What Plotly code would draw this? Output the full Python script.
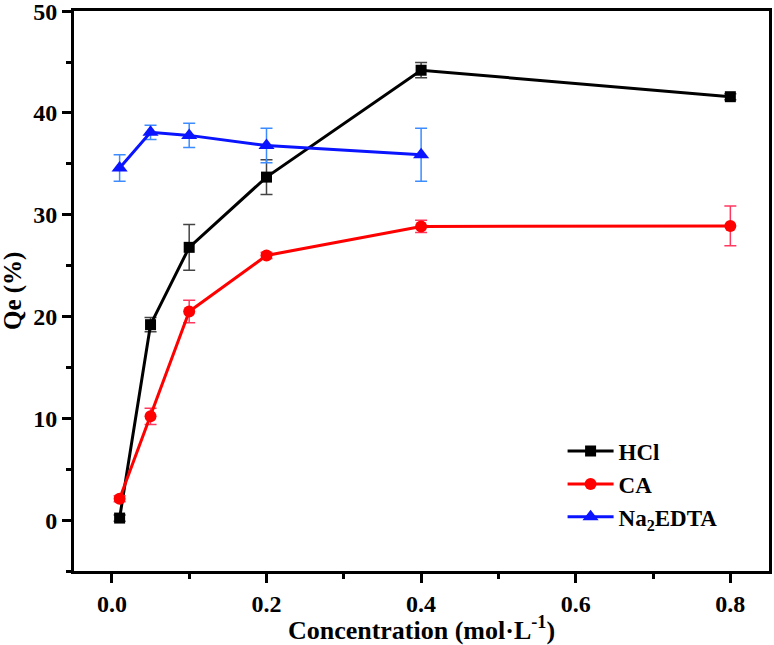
import plotly.graph_objects as go

conc = [0.01, 0.05, 0.1, 0.2, 0.4, 0.8]
conc_edta = [0.01, 0.05, 0.1, 0.2, 0.4]

hcl = [0.2, 19.2, 26.8, 33.7, 44.2, 41.6]
hcl_err = [0.3, 0.7, 2.25, 1.7, 0.75, 0.3]

ca = [2.1, 10.2, 20.5, 26.0, 28.85, 28.9]
ca_err = [0.3, 0.8, 1.1, 0.3, 0.6, 1.95]

edta = [34.6, 38.1, 37.8, 36.8, 35.9]
edta_err = [1.3, 0.7, 1.2, 1.7, 2.6]

x_ticks = [0.0, 0.2, 0.4, 0.6, 0.8]
y_ticks = [0, 10, 20, 30, 40, 50]

FONT = "'Liberation Serif', 'Times New Roman', serif"

fig = go.Figure()

fig.add_trace(go.Scatter(
    x=conc, y=hcl, name="HCl", mode="lines+markers",
    line=dict(color="#000000", width=3),
    marker=dict(symbol="square", size=11, color="#000000"),
    error_y=dict(type="data", array=hcl_err, color="#444444", thickness=1.5, width=6),
))
fig.add_trace(go.Scatter(
    x=conc, y=ca, name="CA", mode="lines+markers",
    line=dict(color="#FF0000", width=3),
    marker=dict(symbol="circle", size=12, color="#FF0000"),
    error_y=dict(type="data", array=ca_err, color="#FF3860", thickness=1.5, width=6),
))
fig.add_trace(go.Scatter(
    x=conc_edta, y=edta, name="Na<sub>2</sub>EDTA", mode="lines+markers",
    line=dict(color="#0a14FF", width=3),
    marker=dict(symbol="triangle-up", size=14, color="#0a14FF"),
    error_y=dict(type="data", array=edta_err, color="#3c8cff", thickness=1.5, width=6),
))

axis_common = dict(
    showline=True, linecolor="black", linewidth=3, mirror=True,
    showgrid=False, zeroline=False, automargin=False,
    ticks="outside", ticklen=9, tickwidth=3, tickcolor="black",
    ticklabeloverflow="allow",
    tickfont=dict(family=FONT, size=24, color="black", weight="bold"),
)

fig.update_xaxes(
    range=[-0.049, 0.85], tickvals=x_ticks, ticktext=[f"{v:.1f}" for v in x_ticks],
    minor=dict(dtick=0.1, tick0=0, ticks="outside", ticklen=5, tickwidth=3, tickcolor="black"),
    title=dict(text="Concentration (mol·L<sup>-1</sup>)", standoff=0,
               font=dict(family=FONT, size=26, color="black", weight="bold")),
    **axis_common,
)
fig.update_yaxes(
    range=[-5, 50.02], tickvals=y_ticks,
    minor=dict(dtick=5, tick0=0, ticks="outside", ticklen=5, tickwidth=3, tickcolor="black"),
    **axis_common,
)

fig.add_annotation(
    text="Qe (%)", textangle=-90, xref="paper", yref="paper",
    x=-61 / 695, y=0.5, xanchor="center", yanchor="middle", showarrow=False,
    font=dict(family=FONT, size=25, color="black", weight="bold"),
)

fig.update_layout(
    width=774, height=645,
    margin=dict(l=74, r=5, t=11, b=74),
    paper_bgcolor="white", plot_bgcolor="white",
    showlegend=True,
    legend=dict(
        x=0.703, y=0.2525, xanchor="left", yanchor="top",
        bgcolor="rgba(0,0,0,0)", borderwidth=0, itemwidth=46,
        font=dict(family=FONT, size=23, color="black", weight="bold"),
        tracegroupgap=0,
    ),
)

fig.write_html("out.html", config={"displayModeBar": False},
               post_script="document.body.style.margin='0';")
